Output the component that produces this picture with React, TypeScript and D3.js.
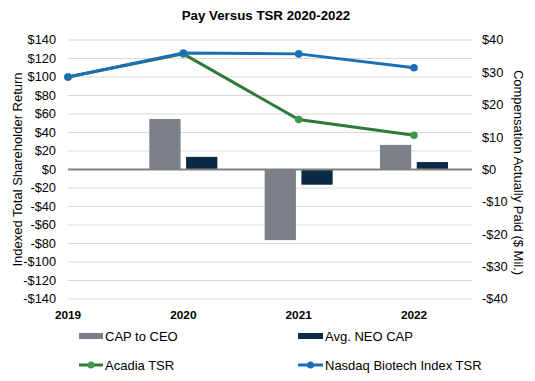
import React from "react";
import * as d3 from "d3";

const years = ["2019", "2020", "2021", "2022"];
const barYears = ["2020", "2021", "2022"];
const capToCeo = [15.6, -21.8, 7.6];
const avgNeoCap = [3.9, -4.7, 2.3];
const acadiaTsr = [100, 125, 54, 37];
const nasdaqTsr = [100, 126, 125, 110];
const leftTicks = d3.range(-140, 141, 20);
const rightTicks = d3.range(-40, 41, 10);

const W = 535, H = 381;
const left = 68, right = 472, top = 40, bottom = 299;
const font = "Arial, 'Liberation Sans', sans-serif";

export default function App() {
  const x = d3.scalePoint<string>().domain(years).range([68, 414]);
  const yL = d3.scaleLinear().domain([-140, 140]).range([bottom, top]);
  const yR = d3.scaleLinear().domain([-40, 40]).range([bottom, top]);
  const inner = d3.scaleBand<string>().domain(["ceo", "neo"]).range([-34, 34]).paddingInner(0.15);
  const fmt = (v: number) => (v < 0 ? "-$" + Math.abs(v) : "$" + v);

  const line = d3.line<number>().x((_, i) => x(years[i])!).y((d) => yL(d));

  const bars: { k: string; v: number; yr: string; c: string }[] = [];
  barYears.forEach((yr, i) => {
    bars.push({ k: "ceo", v: capToCeo[i], yr, c: "#7b7f86" });
    bars.push({ k: "neo", v: avgNeoCap[i], yr, c: "#0c2a45" });
  });

  const blue = "#1b6fb5", green = "#2f7a36", greenDot = "#3c9a4a";

  return (
    <svg width={W} height={H} style={{ position: "absolute", left: 0, top: 0, background: "#fff" }} fontFamily={font}>
      <text x={266} y={20} textAnchor="middle" fontSize={13.3} fontWeight="bold" fill="#000">Pay Versus TSR 2020-2022</text>
      {leftTicks.map((t) => (
        <g key={"g" + t}>
          {t !== 0 && <line x1={left} x2={right} y1={yL(t)} y2={yL(t)} stroke="#d9d9d9" strokeWidth={1} />}
          <text x={56} y={yL(t)} dy="0.35em" textAnchor="end" fontSize={12.8} fill="#000">{fmt(t)}</text>
        </g>
      ))}
      {rightTicks.map((t) => (
        <text key={"r" + t} x={482} y={yR(t)} dy="0.35em" textAnchor="start" fontSize={12.8} fill="#000">{fmt(t)}</text>
      ))}
      {bars.map((b, i) => {
        const cx = x(b.yr)! + inner(b.k)!;
        const y0 = yR(0), y1 = yR(b.v);
        return <rect key={i} x={cx} width={inner.bandwidth()} y={Math.min(y0, y1)} height={Math.abs(y1 - y0)} fill={b.c} />;
      })}
      <line x1={left} x2={right} y1={yL(0)} y2={yL(0)} stroke="#808080" strokeWidth={2} />
      <path d={line(acadiaTsr)!} fill="none" stroke={green} strokeWidth={3} />
      {acadiaTsr.map((v, i) => (
        <circle key={"a" + i} cx={x(years[i])!} cy={yL(v)} r={3.8} fill={greenDot} />
      ))}
      <path d={line(nasdaqTsr)!} fill="none" stroke={blue} strokeWidth={3} />
      {nasdaqTsr.map((v, i) => (
        <circle key={"n" + i} cx={x(years[i])!} cy={yL(v)} r={3.8} fill={blue} />
      ))}
      {years.map((yr) => (
        <text key={"x" + yr} x={x(yr)!} y={319} textAnchor="middle" fontSize={11.8} fontWeight="bold" fill="#000">{yr}</text>
      ))}
      <text transform={`translate(17,${(top + bottom) / 2}) rotate(-90)`} textAnchor="middle" dy="0.35em" fontSize={13} fill="#000">Indexed Total Shareholder Return</text>
      <text transform={`translate(519,${(top + bottom) / 2 + 3}) rotate(90)`} textAnchor="middle" dy="0.35em" fontSize={13} fill="#000">Compensation Actually Paid ($ Mil.)</text>
      {/* legend */}
      <rect x={79} y={333} width={24} height={6} fill="#7b7f86" />
      <text x={105} y={336} dy="0.35em" fontSize={13} fill="#000">CAP to CEO</text>
      <rect x={298} y={333} width={25} height={6} fill="#0c2a45" />
      <text x={325} y={336} dy="0.35em" fontSize={13} fill="#000">Avg. NEO CAP</text>
      <line x1={79} x2={103} y1={365} y2={365} stroke={green} strokeWidth={3} />
      <circle cx={91} cy={365} r={3.5} fill={greenDot} />
      <text x={105} y={365} dy="0.35em" fontSize={13} fill="#000">Acadia TSR</text>
      <line x1={298} x2={323} y1={365} y2={365} stroke={blue} strokeWidth={3} />
      <circle cx={310.5} cy={365} r={3.5} fill={blue} />
      <text x={325} y={365} dy="0.35em" fontSize={13} fill="#000">Nasdaq Biotech Index TSR</text>
    </svg>
  );
}
